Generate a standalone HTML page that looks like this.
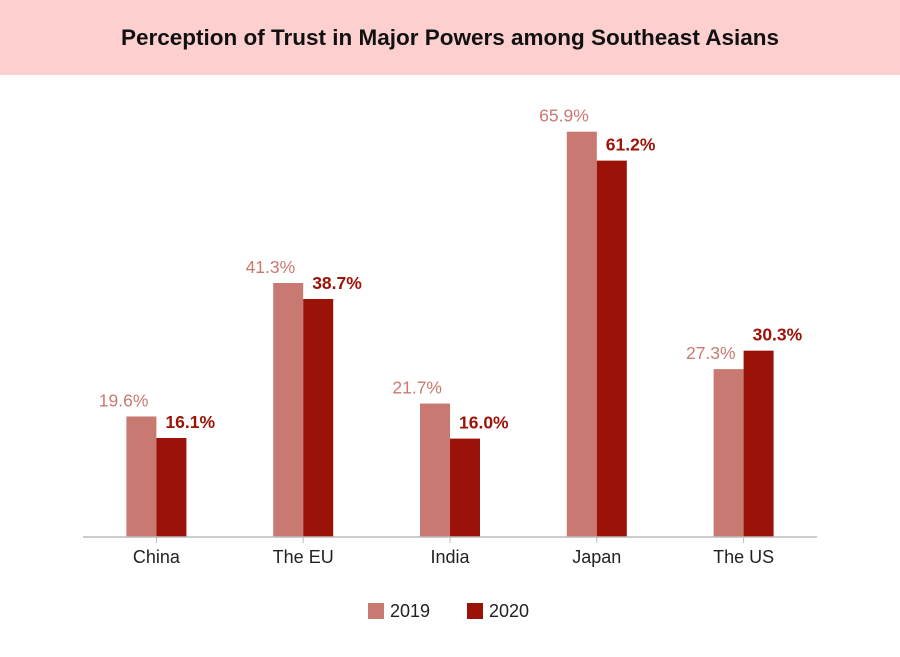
<!DOCTYPE html>
<html><head><meta charset="utf-8"><style>
body{margin:0;width:900px;height:657px;background:#fff;font-family:"Liberation Sans",sans-serif;overflow:hidden}
#band{position:absolute;left:0;top:0;width:900px;height:75px;background:#fdd0cf}
#title{position:absolute;left:0;top:25px;width:900px;text-align:center;font-weight:bold;font-size:22.5px;color:#111}
svg{position:absolute;left:0;top:0}
</style></head><body>
<div id="band"></div>
<div id="title">Perception of Trust in Major Powers among Southeast Asians</div>
<svg id="chart" width="900" height="657"></svg>
<script>
const categories=["China","The EU","India","Japan","The US"];
const values2019=[19.6,41.3,21.7,65.9,27.3];
const values2020=[16.1,38.7,16.0,61.2,30.3];
const seriesNames=["2019","2020"];
const colors=["#c87a72","#9b1308"];
const svg=document.getElementById('chart');
const NS="http://www.w3.org/2000/svg";
const x0=83,x1=817,base=537,ppu=6.15,bw=30;
const band=(x1-x0)/categories.length;
const xc=i=>x0+band*(i+0.5);
const y=v=>base-v*ppu;
function mk(t,a){const e=document.createElementNS(NS,t);for(const k in a)e.setAttribute(k,a[k]);svg.appendChild(e);return e;}
categories.forEach((c,i)=>{
  const cx=xc(i);
  [values2019,values2020].forEach((arr,s)=>{
    const bx=s===0?cx-bw:cx;
    const r=mk('rect',{x:bx,y:y(arr[i]),width:bw,height:base-y(arr[i]),fill:colors[s]});
    
    
    const t=mk('text',{x:s===0?cx-8:cx+9,y:y(arr[i])-10,'font-size':17.5,fill:s===0?colors[0]:colors[1],'text-anchor':s===0?'end':'start','font-weight':s===0?'normal':'bold'});
    t.textContent=arr[i].toFixed(1)+'%';
    
    
  });
  const tk=mk('line',{x1:cx,x2:cx,y1:base,y2:base+6,stroke:'#bbb','stroke-width':1});
  
  
  const l=mk('text',{x:cx,y:563,'font-size':18,fill:'#222','text-anchor':'middle'});
  l.textContent=c;
  
  
});
const ax=mk('line',{x1:x0,x2:x1,y1:base,y2:base,stroke:'#bbb','stroke-width':1.5});


const lx=[368,467];
seriesNames.forEach((n,s)=>{
  const r=mk('rect',{x:lx[s],y:603,width:16,height:16,fill:colors[s]});
  
  
  const t=mk('text',{x:lx[s]+22,y:617,'font-size':18,fill:'#222'});
  t.textContent=n;
  
  
});
</script>
</body></html>
